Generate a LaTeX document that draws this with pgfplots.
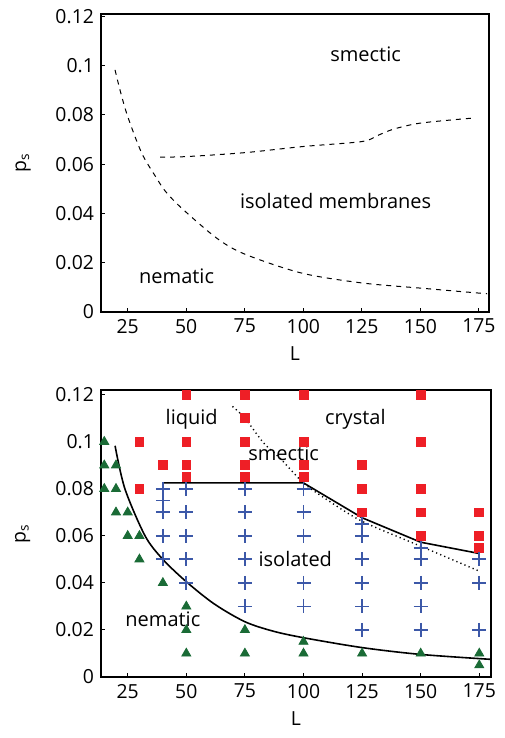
\documentclass[border=0pt]{standalone}
\usepackage{fontspec}
\setmainfont{Open Sans}
\usepackage{pgfplots}
\pgfplotsset{compat=1.18}
\definecolor{SqRed}{HTML}{EE1F26}
\definecolor{TriGreen}{HTML}{1A6B36}
\definecolor{PlusBlue}{HTML}{3C58A8}
\newcommand\ticksize{\fontsize{9.7}{12}\selectfont}
\newcommand\lblsize{\fontsize{10}{12}\selectfont}

\pgfplotsset{
  phase/.style={
    scale only axis,
    axis line style={black,line width=0.6pt},
    tick pos=left,
    tick align=inside,
    major tick length=2pt,
    tick style={black,line width=0.5pt},
    xtick={25,50,75,100,125,150,175},
    xticklabels={25,50,75,100,125,150,175},
    ytick={0,0.02,0.04,0.06,0.08,0.1,0.12},
    yticklabels={0,0.02,0.04,0.06,0.08,0.1,0.12},
    tick label style={font=\ticksize},
    label style={font=\ticksize},
    xlabel={L},
    ylabel={p\textsubscript{s}},
    ylabel style={at={(axis description cs:-0.163,0.5)}},
    ymin=0,
  },
}

\begin{document}
\begin{tikzpicture}
% ---- top: schematic diagram ----
\begin{axis}[phase,
  at={(0,0)}, anchor=north west,
  width=194pt, height=149pt,
  xmin=13.6, xmax=179.3, ymax=0.121,
]
\addplot[black,line width=0.5pt,dash pattern=on 2.5pt off 2.5pt,smooth] coordinates {
  (19.6,0.0983) (21.7,0.0902) (25,0.0794) (31,0.0645) (37.3,0.0544)
  (41.2,0.0489) (48,0.0422) (63,0.030) (75,0.0235) (99.3,0.0158)
  (125,0.0118) (150,0.0097) (178.5,0.0074)
};
\addplot[black,line width=0.5pt,dash pattern=on 2.5pt off 2.5pt,smooth] coordinates {
  (38.8,0.0629) (50,0.0631) (75,0.0647) (100,0.0672) (125,0.0692)
  (131.3,0.0715) (138.4,0.0742) (150,0.0767) (171.9,0.0787)
};
\node[font=\lblsize] at (axis cs:126.6,0.1047) {smectic};
\node[font=\lblsize] at (axis cs:113.8,0.0452) {isolated membranes};
\node[font=\lblsize] at (axis cs:45.9,0.0147) {nematic};
\end{axis}

% ---- bottom: simulation points ----
\begin{axis}[phase,
  at={(0,-188pt)}, anchor=north west,
  width=195pt, height=143.5pt,
  xmin=13.6, xmax=180, ymax=0.122,
  clip=false,
]
% nematic
\addplot[only marks,mark=triangle*,mark size=2.6pt,color=TriGreen] coordinates {
  (15,0.1) (15,0.09) (20,0.09) (15,0.08) (20,0.08)
  (20,0.07) (25,0.07) (25,0.06) (30,0.06) (30,0.05) (40,0.04)
  (50,0.03) (50,0.02) (50,0.01) (75,0.02) (75,0.01)
  (100,0.015) (100,0.01) (125,0.01) (150,0.01) (175,0.01) (175,0.005)
};
% smectic / crystal
\addplot[only marks,mark=square*,mark size=2.2pt,color=SqRed] coordinates {
  (30,0.1) (30,0.08) (40,0.09)
  (50,0.12) (50,0.1) (50,0.09) (50,0.085)
  (75,0.12) (75,0.11) (75,0.1) (75,0.09) (75,0.085)
  (100,0.12) (100,0.1) (100,0.09) (100,0.085)
  (125,0.09) (125,0.08) (125,0.07)
  (150,0.12) (150,0.1) (150,0.08) (150,0.07) (150,0.06)
  (175,0.07) (175,0.06) (175,0.055)
};
% isolated membranes
\addplot[only marks,mark=+,mark size=3.5pt,line width=0.9pt,color=PlusBlue] coordinates {
  (40,0.08) (40,0.075) (40,0.07) (40,0.06) (40,0.05)
  (50,0.08) (50,0.07) (50,0.06) (50,0.05) (50,0.04)
  (75,0.08) (75,0.07) (75,0.06) (75,0.05) (75,0.04) (75,0.03)
  (100,0.08) (100,0.07) (100,0.06) (100,0.04) (100,0.03)
  (125,0.065) (125,0.06) (125,0.05) (125,0.04) (125,0.03) (125,0.02)
  (150,0.055) (150,0.05) (150,0.04) (150,0.03) (150,0.02)
  (175,0.05) (175,0.04) (175,0.02)
};
\addplot[black,line width=0.8pt,smooth] coordinates {
  (19.6,0.0983) (23.8,0.080) (32.4,0.060) (40,0.050) (50,0.0405)
  (62,0.031) (75,0.0235) (87,0.0195) (100,0.0167) (125,0.0125) (150,0.0096) (180,0.0075)
};
\addplot[black,line width=0.8pt] coordinates {
  (40,0.079) (40,0.0825) (100,0.0825) (125,0.0677) (150,0.0573) (175,0.0525)
};
\addplot[black,line width=0.7pt,dash pattern=on 0.6pt off 1.6pt,smooth] coordinates {
  (69.7,0.115) (75,0.110) (83,0.0995) (90,0.093) (100,0.0825)
  (110,0.0754) (125,0.0662) (150,0.0556) (175,0.045)
};
\node[font=\lblsize] at (axis cs:52.3,0.1097) {liquid};
\node[font=\lblsize] at (axis cs:122.1,0.1097) {crystal};
\node[font=\lblsize] at (axis cs:91.5,0.095) {smectic};
\node[font=\lblsize] at (axis cs:96.5,0.05) {isolated};
\node[font=\lblsize] at (axis cs:40,0.0245) {nematic};
\end{axis}
\path (-50.5pt,7pt) rectangle (201.5pt,-362pt);
\end{tikzpicture}
\end{document}
